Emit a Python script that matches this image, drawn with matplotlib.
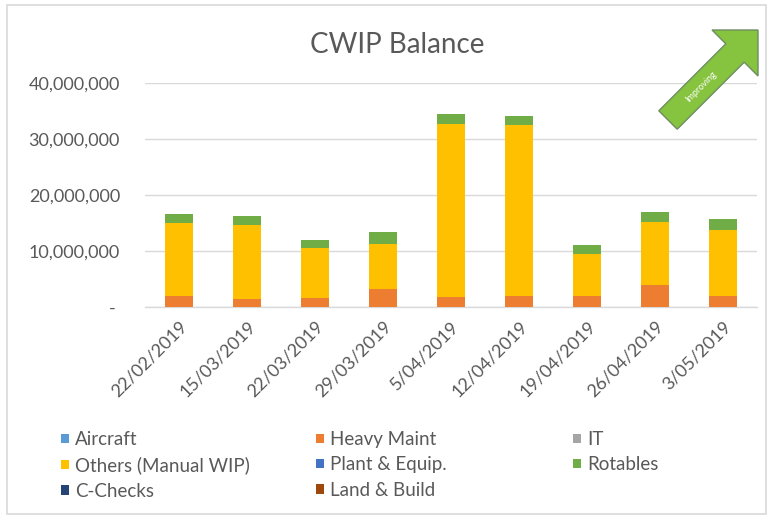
import matplotlib
matplotlib.use("Agg")
import matplotlib.pyplot as plt
from matplotlib.patches import Polygon, Rectangle
import numpy as np

dates = ['22/02/2019', '15/03/2019', '22/03/2019', '29/03/2019', '5/04/2019',
         '12/04/2019', '19/04/2019', '26/04/2019', '3/05/2019']
aircraft = [0, 0, 0, 0, 0, 0, 0, 0, 0]
heavy_maint = [2.0e6, 1.5e6, 1.6e6, 3.3e6, 1.9e6, 2.1e6, 2.1e6, 4.0e6, 2.1e6]
it = [0, 0, 0, 0, 0, 0, 0, 0, 0]
others = [13.1e6, 13.2e6, 8.9e6, 7.95e6, 30.8e6, 30.3e6, 7.4e6, 11.2e6, 11.6e6]
plant = [0, 0, 0, 0, 0, 0, 0, 0, 0]
rotables = [1.5e6, 1.5e6, 1.4e6, 2.15e6, 1.8e6, 1.6e6, 1.6e6, 1.8e6, 2.1e6]
c_checks = [0, 0, 0, 0, 0, 0, 0, 0, 0]
land_build = [0, 0, 0, 0, 0, 0, 0, 0, 0]

y_ticks = [0, 10e6, 20e6, 30e6, 40e6]
y_tick_labels = ['- ', '10,000,000', '20,000,000', '30,000,000', '40,000,000']

series = [
    ('Aircraft', aircraft, '#5B9BD5'),
    ('Heavy Maint', heavy_maint, '#ED7D31'),
    ('IT', it, '#A5A5A5'),
    ('Others (Manual WIP)', others, '#FFC000'),
    ('Plant & Equip.', plant, '#4472C4'),
    ('Rotables', rotables, '#70AD47'),
    ('C-Checks', c_checks, '#264478'),
    ('Land & Build', land_build, '#9E480E'),
]

plt.rcParams['font.family'] = ['Lato', 'DejaVu Sans']
TXT = '#595959'
FS = 13
LFS = 13.5

W, H = 773, 518
fig = plt.figure(figsize=(W / 100, H / 100), dpi=100)
ax = fig.add_axes([145 / W, 1 - 307.3 / H, (757 - 145) / W, (307.3 - 82.7) / H])

x = np.arange(len(dates))
bottom = np.zeros(len(dates))
handles = {}
for name, vals, col in series:
    vals = np.array(vals, dtype=float)
    b = ax.bar(x, vals, width=0.4, bottom=bottom, color=col, label=name, zorder=3)
    handles[name] = b
    bottom += vals

ax.set_xlim(-0.5, len(dates) - 0.5)
ax.set_ylim(0, 40e6)
ax.set_yticks(y_ticks)
ax.set_yticklabels(y_tick_labels, fontsize=FS, color=TXT)
ax.set_xticks(x)
ax.set_xticklabels(dates, rotation=45, ha='right', rotation_mode='anchor',
                   fontsize=FS, color=TXT)
ax.tick_params(axis='y', length=0, pad=18)
ax.tick_params(axis='x', length=0, pad=8)
ax.grid(axis='y', color='#D9D9D9', linewidth=1.0, zorder=0)
for s in ['top', 'right', 'left']:
    ax.spines[s].set_visible(False)
ax.spines['bottom'].set_color('#D9D9D9')
ax.spines['bottom'].set_linewidth(1.0)

fig.text(397 / W, 1 - 45 / H, 'CWIP Balance', ha='center', va='center',
         fontsize=20, color=TXT)

# outer chart border
fig.patches.append(Rectangle((7 / W, 1 - 514 / H), (766 - 7) / W, (514 - 5) / H,
                             transform=fig.transFigure, fill=False,
                             edgecolor='#D9D9D9', linewidth=1.2))

# legend in three columns
cols = [
    (61, ['Aircraft', 'Others (Manual WIP)', 'C-Checks']),
    (316, ['Heavy Maint', 'Plant & Equip.', 'Land & Build']),
    (573, ['IT', 'Rotables']),
]
for xpos, names in cols:
    leg = fig.legend([handles[n] for n in names], names, loc='upper left',
                     bbox_to_anchor=(xpos / W, 1 - 431 / H), frameon=False,
                     fontsize=LFS, borderpad=0, borderaxespad=0,
                     handlelength=0.4, handleheight=0.4, handletextpad=0.35,
                     labelspacing=0.45)
    for t in leg.get_texts():
        t.set_color(TXT)

# "Improving" arrow (decoration), pixel coords y-down
pts = [(658.8, 110.8), (725.8, 43.8), (712, 30), (758, 30), (758, 76),
       (744.2, 62.2), (677.2, 129.2)]
pts_fig = [(px / W, 1 - py / H) for px, py in pts]
fig.patches.append(Polygon(pts_fig, closed=True, transform=fig.transFigure,
                           facecolor='#86C440', edgecolor='#6E8C62', linewidth=1.0))
fig.text(701 / W, 1 - 87 / H, 'Improving', rotation=45, ha='center', va='center',
         fontsize=6.5, color='white')

fig.savefig('out.png', dpi=100)
